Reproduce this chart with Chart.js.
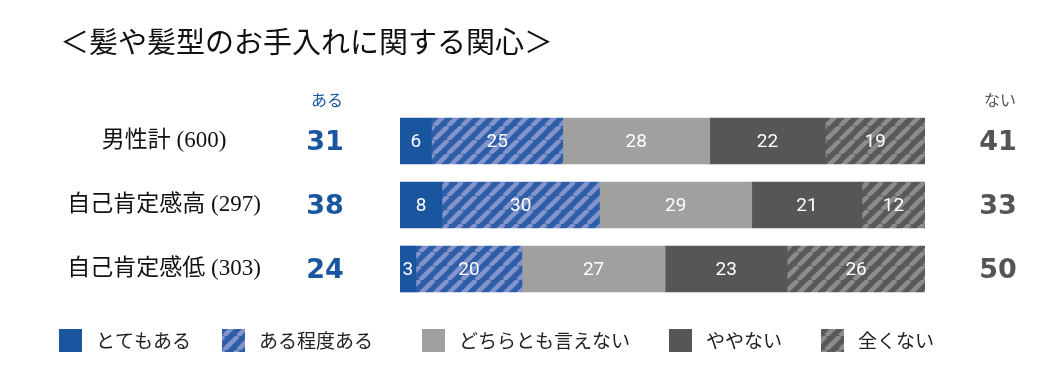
<!DOCTYPE html>
<html>
<head>
<meta charset="utf-8">
<script src="https://cdn.jsdelivr.net/npm/chart.js@4"></script>
<style>
  body { margin: 0; background: #fff; }
  #wrap { width: 1063px; height: 390px; position: relative; }
</style>
</head>
<body>
<div id="wrap"><canvas id="chart" width="1063" height="390"></canvas></div>
<script>
const groups = ['男性計 (600)', '自己肯定感高 (297)', '自己肯定感低 (303)']
const series = ['とてもある', 'ある程度ある', 'どちらとも言えない', 'ややない', '全くない']
const totemo = [6, 8, 3]
const aruTeido = [25, 30, 20]
const dochira = [28, 29, 27]
const yaya = [22, 21, 23]
const mattaku = [19, 12, 26]
const aruTotal = [31, 38, 24]
const naiTotal = [41, 33, 50]

const JP = '"Noto Sans CJK JP", "Noto Sans", sans-serif'

// diagonal stripe pattern
function stripes(base, line) {
  const s = 14
  const c = document.createElement('canvas')
  c.width = s; c.height = s
  const g = c.getContext('2d')
  g.fillStyle = base
  g.fillRect(0, 0, s, s)
  g.strokeStyle = line
  g.lineWidth = 4.5
  g.beginPath()
  for (let k = -1; k <= 1; k++) {
    g.moveTo(k * s, s)
    g.lineTo(k * s + s, 0)
  }
  g.stroke()
  return g.createPattern(c, 'repeat')
}

const colors = ['#1a56a0', stripes('#2f5ea8', '#8393cc'), '#a0a09f', '#575655', stripes('#595958', '#8c8c8b')]
const raw = [totemo, aruTeido, dochira, yaya, mattaku]
const rowSum = groups.map((_, i) => raw.reduce((a, s) => a + s[i], 0))

const datasets = raw.map((vals, k) => ({
  label: series[k],
  data: vals.map((v, i) => v / rowSum[i] * 100),
  raw: vals,
  backgroundColor: colors[k],
  borderWidth: 0,
  barThickness: 46
}))

const decor = {
  id: 'decor',
  afterDatasetsDraw(chart) {
    const ctx = chart.ctx
    const yScale = chart.scales.y
    ctx.save()
    // segment values
    ctx.fillStyle = '#fff'
    ctx.font = '19px Roboto, sans-serif'
    ctx.textAlign = 'center'
    ctx.textBaseline = 'middle'
    chart.data.datasets.forEach((ds, k) => {
      chart.getDatasetMeta(k).data.forEach((bar, i) => {
        ctx.fillText(String(ds.raw[i]), (bar.x + bar.base) / 2, bar.y + 1)
      })
    })
    // title
    ctx.fillStyle = '#111'
    ctx.textAlign = 'left'
    ctx.font = '29px ' + JP
    ctx.fillText('＜髪や髪型のお手入れに関する関心＞', 60, 42)
    // headers
    ctx.textAlign = 'center'
    ctx.font = '16px ' + JP
    ctx.fillStyle = '#1a56a0'
    ctx.fillText('ある', 327, 100)
    ctx.fillStyle = '#555'
    ctx.fillText('ない', 1000, 100)
    groups.forEach((g, i) => {
      const y = yScale.getPixelForValue(i)
      ctx.fillStyle = '#111'
      ctx.font = '23px "Liberation Serif", ' + JP
      ctx.fillText(g, 164, y)
      ctx.font = 'bold 27px "DejaVu Sans", sans-serif'
      ctx.fillStyle = '#1a56a0'
      ctx.fillText(String(aruTotal[i]), 325, y + 2)
      ctx.fillStyle = '#555'
      ctx.fillText(String(naiTotal[i]), 998, y + 2)
    })
    // legend
    const boxX = [59, 222, 422, 669, 821]
    ctx.font = '19px ' + JP
    ctx.textAlign = 'left'
    series.forEach((s, k) => {
      ctx.fillStyle = colors[k]
      ctx.fillRect(boxX[k], 329, 23, 23)
      ctx.fillStyle = '#222'
      ctx.fillText(s, boxX[k] + 37, 341)
    })
    ctx.restore()
  }
}

new Chart(document.getElementById('chart'), {
  type: 'bar',
  data: { labels: groups, datasets: datasets },
  options: {
    indexAxis: 'y',
    responsive: false,
    animation: false,
    layout: { padding: { left: 400, right: 138, top: 109, bottom: 89 } },
    scales: {
      x: { stacked: true, min: 0, max: 100, display: false },
      y: { stacked: true, display: false }
    },
    plugins: { legend: { display: false }, tooltip: { enabled: false } }
  },
  plugins: [decor]
})
</script>
</body>
</html>
